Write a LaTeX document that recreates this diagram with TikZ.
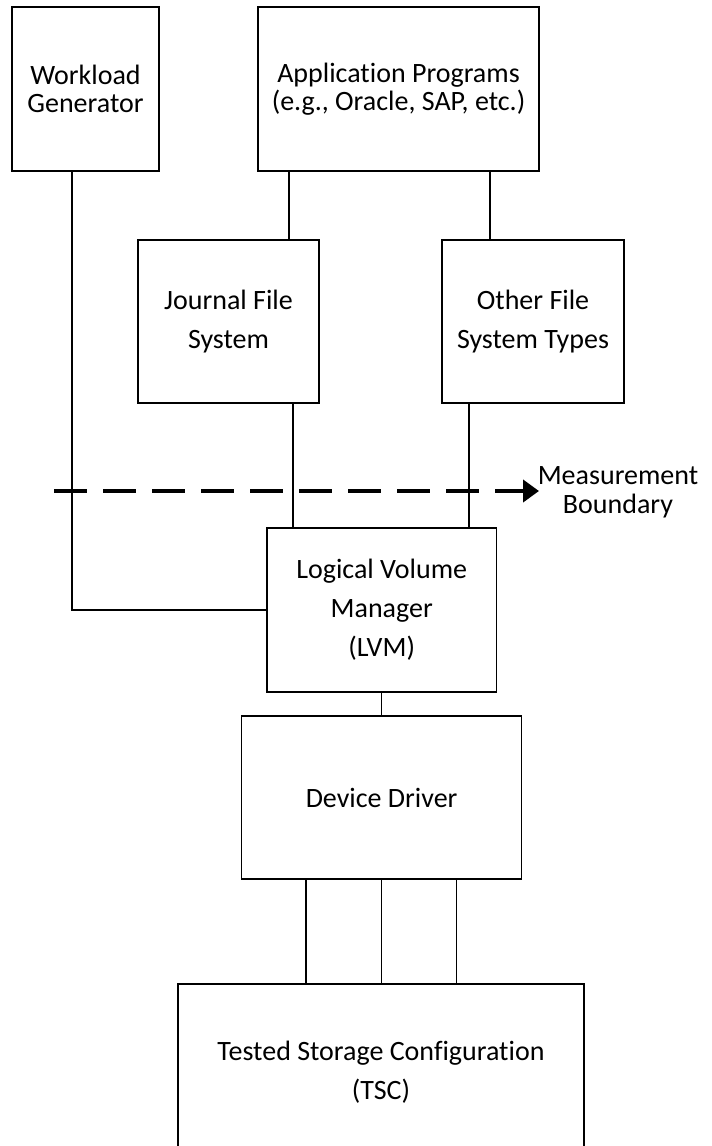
\documentclass[tikz,border=0pt]{standalone}
\usepackage{fontspec}
\setmainfont{Carlito}[Ligatures={NoCommon,NoContextual}]
\usetikzlibrary{arrows.meta}
\begin{document}
\begin{tikzpicture}[x=1pt,y=-1pt,
  box/.style={draw, line width=1.4pt, inner sep=0pt, align=center, font=\fontsize{28}{28.5}\selectfont},
  boxw/.style={box, font=\fontsize{28}{39}\selectfont},
  wire/.style={line width=1.1pt},
  bound/.style={line width=4pt, dash pattern=on 33pt off 16pt, -{Triangle[length=16pt,width=22pt]}}]
\useasboundingbox (0,0) rectangle (712,1146);
\clip (0,0) rectangle (712,1146);
\node[box, minimum width=147pt, minimum height=164pt] (wg) at (85.5,89) {Workload\\Generator};
\node[box, minimum width=281pt, minimum height=164pt] (app) at (398.5,89) {Application Programs\\(e.g., Oracle, SAP, etc.)};
\node[boxw, minimum width=181pt, minimum height=163pt] (jfs) at (228.5,321.5) {Journal File\\System};
\node[boxw, minimum width=182pt, minimum height=163pt] (ofs) at (533,321.5) {Other File\\System Types};
\node[boxw, minimum width=229.5pt, minimum height=164pt] (lvm) at (381.75,610) {Logical Volume\\Manager\\(LVM)};
\node[box, minimum width=280pt, minimum height=163pt] (dd) at (381.6,797.5) {Device Driver};
\node[boxw, minimum width=406pt, minimum height=176pt] (tsc) at (381,1072) {Tested Storage Configuration\\(TSC)};
\node[align=center, inner sep=0pt, font=\fontsize{28}{29}\selectfont] (mb) at (618,492) {Measurement\\Boundary};
% connectors
\draw[wire] ([xshift=-13.5pt]wg.south) |- (lvm.west);
\draw[wire] ([xshift=60.5pt]jfs.north) coordinate (t1) -- (t1 |- app.south);
\draw[wire] ([xshift=-43pt]ofs.north) coordinate (t2) -- (t2 |- app.south);
\draw[wire] ([xshift=64.5pt]jfs.south) coordinate (t3) -- (t3 |- lvm.north);
\draw[wire] ([xshift=-64pt]ofs.south) coordinate (t4) -- (t4 |- lvm.north);
\draw[wire] (lvm.south) -- (lvm.south |- dd.north);
\draw[wire] ([xshift=-75.6pt]dd.south) coordinate (t5) -- (t5 |- tsc.north);
\draw[wire] (dd.south) -- (dd.south |- tsc.north);
\draw[wire] ([xshift=75pt]dd.south) coordinate (t6) -- (t6 |- tsc.north);
% measurement boundary
\coordinate (ms) at (54,491);
\coordinate (me) at (539,491);
\draw[bound] (ms) -- (me);
\end{tikzpicture}
\end{document}
